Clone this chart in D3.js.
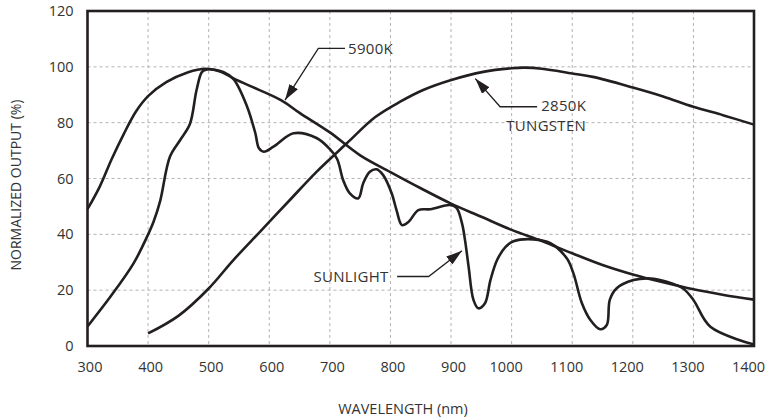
<!DOCTYPE html>
<html>
<head>
<meta charset="utf-8">
<script src="https://cdn.jsdelivr.net/npm/d3@7"></script>
<style>
  body { margin: 0; background: #fff; }
  text { font-family: "Open Sans", sans-serif; fill: #333; }
  .grid line { stroke: #b3b3b3; stroke-width: 1; stroke-dasharray: 3,3; }
  .curve { fill: none; stroke: #231f20; stroke-width: 2.6; stroke-linejoin: round; }
  .lead { fill: none; stroke: #231f20; stroke-width: 1.3; }
</style>
</head>
<body>
<div id="chart"></div>
<script>
// chart values
var xTicks = [300, 400, 500, 600, 700, 800, 900, 1000, 1100, 1200, 1300, 1400];
var yTicks = [0, 20, 40, 60, 80, 100, 120];

var sun5900Wave = [300, 320, 340, 360, 380, 400, 430, 465, 495, 520, 545, 570, 620, 650, 700, 750, 800, 850, 900, 950, 1000, 1050, 1100, 1150, 1200, 1250, 1300, 1350, 1400];
var sun5900Val  = [49, 57, 67, 76, 84, 89.5, 94.5, 98, 99.3, 98.2, 95.4, 93, 88, 83.5, 76.5, 68.3, 62.3, 56.5, 51, 46.3, 41.6, 37.6, 33.2, 29, 25.6, 22.8, 20.3, 18.3, 16.6];

var tungstenWave = [400, 450, 500, 540, 585, 634, 678, 728, 775, 816, 854, 899, 953, 1000, 1022, 1050, 1100, 1134, 1200, 1250, 1300, 1350, 1400];
var tungstenVal  = [4.5, 10.8, 20.6, 30.6, 41, 52.3, 62.4, 72.6, 82, 87.5, 91.7, 95.2, 98.2, 99.5, 99.7, 99.3, 97.6, 96.4, 92.6, 89.4, 85.7, 82.6, 79.3];

var sunlightWave = [300, 338, 376, 398, 409, 420, 436, 453, 469, 480, 489, 497, 524, 541, 563, 577, 583, 591, 607, 640, 678, 700, 712, 722, 733, 747, 755, 766, 777, 788, 802, 810, 819, 830, 846, 866, 898, 909, 918, 923, 929, 937, 945, 956, 965, 976, 990, 1003, 1036, 1064, 1091, 1102, 1116, 1130, 1146, 1157, 1162, 1173, 1201, 1229, 1256, 1283, 1300, 1328, 1400];
var sunlightVal  = [7, 17.7, 29.6, 39, 44.5, 52, 67.8, 73.8, 79.5, 91.7, 98.2, 99.1, 98.2, 95.6, 86, 76.2, 70.8, 69.6, 71.4, 76.2, 74.5, 70.5, 67, 59.4, 54.7, 52.9, 58.3, 62.4, 63.3, 61.2, 54.7, 48.7, 43.3, 44.5, 48.7, 49, 50.5, 49.5, 44, 38, 28.4, 16.5, 13.5, 15.3, 23.6, 30.8, 35.5, 37.5, 38.2, 36.8, 31.4, 26, 15.3, 9.3, 6, 7.5, 16.5, 20.6, 23.6, 24.2, 23, 20.6, 16.5, 6.9, 0.5];

// callouts: arrow tip, elbow, end of leader, text anchor point (wavelength, output)
var labels = [
  { lines: ["5900K"], tip: [626, 88.1], elbow: [681, 106.6], end: [725, 106.6], text: [730, 106.6], anchor: "start" },
  { lines: ["2850K", "TUNGSTEN"], tip: [940, 95.8], elbow: [981, 85.7], end: [1042, 85.7], text: [1123, 86.2], anchor: "end" },
  { lines: ["SUNLIGHT"], tip: [918, 34.1], elbow: [863, 24.9], end: [811, 24.9], text: [797, 24.9], anchor: "end" }
];

var svgWidth = 766;
var svgHeight = 419;

var svg = d3.select("#chart")
  .append("svg")
  .attr("width", svgWidth)
  .attr("height", svgHeight);

var x = d3.scaleLinear().domain([300, 1400]).range([87.5, 754]);
var y = d3.scaleLinear().domain([0, 120]).range([346, 11]);

// grid
var grid = svg.append("g").attr("class", "grid");
grid.selectAll(".vg")
  .data(xTicks.slice(1, -1))
  .enter().append("line")
  .attr("x1", d => x(d)).attr("x2", d => x(d))
  .attr("y1", y(120)).attr("y2", y(0));
grid.selectAll(".hg")
  .data(yTicks.slice(1, -1))
  .enter().append("line")
  .attr("x1", x(300)).attr("x2", x(1400))
  .attr("y1", d => y(d)).attr("y2", d => y(d));

// axes (labels only, frame drawn separately)
var bottomAxis = d3.axisBottom(x).tickValues(xTicks).tickFormat(d3.format("d")).tickSize(0).tickPadding(16);
var leftAxis = d3.axisLeft(y).tickValues(yTicks).tickFormat(d3.format("d")).tickSize(0).tickPadding(14);

var gx = svg.append("g").attr("transform", `translate(0, ${y(0)})`).call(bottomAxis);
var gy = svg.append("g").attr("transform", `translate(${x(300)}, 0)`).call(leftAxis);
[gx, gy].forEach(function(g) {
  g.select(".domain").remove();
  g.selectAll("text").style("font-size", "14.5px").style("font-family", "'Open Sans', sans-serif").attr("fill", "#333");
});
// the long labels sit a little left of their grid line in the original
gx.selectAll("text").attr("dx", d => d >= 1000 ? -6 : 2);

// curves
var line = d3.line()
  .x(d => x(d[0]))
  .y(d => y(d[1]))
  .curve(d3.curveCatmullRom.alpha(0.5));

[[sun5900Wave, sun5900Val], [tungstenWave, tungstenVal], [sunlightWave, sunlightVal]].forEach(function(s) {
  svg.append("path")
    .attr("class", "curve")
    .attr("d", line(d3.zip(s[0], s[1])));
});

// frame
svg.append("rect")
  .attr("x", x(300)).attr("y", y(120))
  .attr("width", x(1400) - x(300))
  .attr("height", y(0) - y(120))
  .attr("fill", "none")
  .attr("stroke", "#231f20")
  .attr("stroke-width", 2.6);

// arrow head
svg.append("defs").append("marker")
  .attr("id", "arrow")
  .attr("markerUnits", "userSpaceOnUse")
  .attr("viewBox", "0 0 16 10")
  .attr("refX", 16).attr("refY", 5)
  .attr("markerWidth", 16).attr("markerHeight", 10)
  .attr("orient", "auto")
  .append("path")
  .attr("d", "M0,0 L16,5 L0,10 Z")
  .attr("fill", "#231f20");

labels.forEach(function(l) {
  svg.append("path")
    .attr("class", "lead")
    .attr("d", d3.line()([[x(l.end[0]), y(l.end[1])], [x(l.elbow[0]), y(l.elbow[1])], [x(l.tip[0]), y(l.tip[1])]]))
    .attr("marker-end", "url(#arrow)");

  var tx = x(l.text[0]);
  var t = svg.append("text")
    .attr("x", tx)
    .attr("y", y(l.text[1]))
    .attr("text-anchor", l.anchor)
    .style("font-size", "15px")
    .style("letter-spacing", "0.3px");
  l.lines.forEach(function(s, i) {
    t.append("tspan")
      .attr("x", tx)
      .attr("dy", i == 0 ? "0.35em" : "1.35em")
      .text(s);
  });
});

// axis titles
svg.append("text")
  .attr("transform", "rotate(-90)")
  .attr("x", -185)
  .attr("y", 16)
  .attr("dy", "0.35em")
  .attr("text-anchor", "middle")
  .style("font-size", "14px")
  .text("NORMALIZED OUTPUT (%)");

svg.append("text")
  .attr("x", 403)
  .attr("y", 414)
  .attr("text-anchor", "middle")
  .style("font-size", "14.5px")
  .text("WAVELENGTH (nm)");
</script>
</body>
</html>
